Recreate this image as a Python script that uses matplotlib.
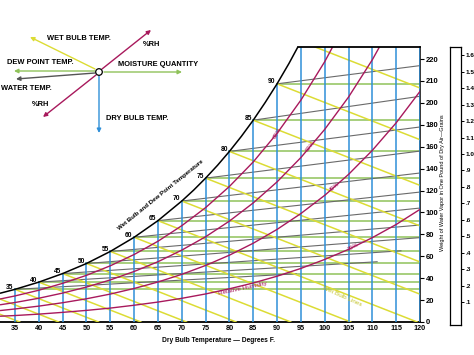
import numpy as np
import matplotlib
matplotlib.use("Agg")
import matplotlib.pyplot as plt
from matplotlib.patches import Circle

plt.rcParams['font.family'] = ['Liberation Sans', 'DejaVu Sans']

# ---------------- data ----------------
sat_t = [32, 35, 40, 45, 50, 55, 60, 65, 70, 72.5, 75, 77.5, 80, 82.5, 85, 87.5, 90,
         92.5, 95, 97.5, 100, 105, 110, 115, 120]
sat_w = [26.4, 29.8, 36.4, 44.2, 53.4, 64.4, 77.3, 92.5, 110.4, 120.4, 131.3, 143.0,
         155.7, 169.4, 184.2, 200.3, 217.4, 236.0, 256.1, 277.8, 301.1, 353.2, 414.1,
         484.8, 567.5]
rh_t = [32, 35, 40, 45, 50, 55, 60, 65, 70, 75, 80, 85, 90, 95, 100, 105, 110, 115, 120]
rh20 = [5.3, 5.9, 7.2, 8.8, 10.6, 12.7, 15.3, 18.2, 21.6, 25.6, 30.3, 35.6, 41.8,
        48.9, 57.1, 66.3, 77.0, 89.0, 102.8]
rh40 = [10.5, 11.9, 14.5, 17.6, 21.2, 25.5, 30.6, 36.5, 43.5, 51.6, 61.0, 71.9, 84.5,
        99.0, 115.6, 134.7, 156.7, 181.8, 210.5]
rh60 = [15.8, 17.8, 21.7, 26.4, 31.9, 38.4, 46.1, 55.0, 65.6, 77.8, 92.1, 108.7, 127.9,
        150.1, 175.8, 205.3, 239.4, 278.5, 323.6]
rh80 = [21.1, 23.8, 29.0, 35.3, 42.6, 51.3, 61.6, 73.7, 87.9, 104.4, 123.7, 146.1, 172.2,
        202.5, 237.6, 278.1, 325.1, 379.4, 442.4]
rh_labels = ['20%', '40%', '60%', '80%']
rh_label_t = [106, 102, 97, 90]

dry_bulb = [35, 40, 45, 50, 55, 60, 65, 70, 75, 80, 85, 90, 95, 100, 105, 110, 115, 120]

wb_t = [25, 30, 35, 40, 45, 50, 55, 60, 65, 70, 75, 80, 85, 90, 95]
wb_start_w = [18.7, 24.1, 29.8, 36.4, 44.2, 53.4, 64.4, 77.3, 92.5, 110.4, 131.3, 155.7,
              184.2, 217.4, 256.1]
wb_slope = 1.7  # grains per degree F

dew_t = [35, 40, 45, 50, 55, 60, 65, 70, 75, 80, 85, 90]
dew_w = [29.8, 36.4, 44.2, 53.4, 64.4, 77.3, 92.5, 110.4, 131.3, 155.7, 184.2, 217.4]

gray_end_t = [94, 111, 116, 120, 120, 120, 120, 120, 120, 120, 120, 120]
gray_end_w = [44, 55, 65, 77, 88.5, 104, 118.6, 136, 156, 178, 206, 234]

sat_label_t = [35, 40, 45, 50, 55, 60, 65, 70, 75, 80, 85, 90]

ytick_vals = [0, 20, 40, 60, 80, 100, 120, 140, 160, 180, 200, 220, 240]
ytick_labels = ['0', '20', '40', '60', '80', '100', '120', '140', '160', '180',
                '200', '210', '220']
bar_vals = [0.1, 0.2, 0.3, 0.4, 0.5, 0.6, 0.7, 0.8, 0.9, 1.0, 1.1, 1.2, 1.3, 1.4, 1.5, 1.6]
bar_labels = ['.1', '.2', '.3', '.4', '.5', '.6', '.7', '.8', '.9',
              '1.0', '1.1', '1.2', '1.3', '1.4', '1.5', '1.6']

W_TOP = 251
T_MIN, T_MAX = 31.85, 120

BLUE = '#2f8fd8'
MAG = '#a8195c'
YEL = '#dcdc34'
GRN = '#8fc25a'
GRY = '#6a6a6a'

W, H = 474, 355
fig = plt.figure(figsize=(W / 100, H / 100), dpi=100)
fig.patch.set_facecolor('white')

ax = fig.add_axes([0 / W, (H - 322) / H, 420 / W, (322 - 47) / H])
ax.set_xlim(T_MIN, T_MAX)
ax.set_ylim(0, W_TOP)
for s in ['left', 'top']:
    ax.spines[s].set_visible(False)
ax.spines['bottom'].set_linewidth(1.3)
ax.spines['right'].set_linewidth(1.1)

sat_t_a = np.array(sat_t, float)
sat_w_a = np.array(sat_w, float)

# green dew point lines
for t, w in zip(dew_t, dew_w):
    ax.plot([t, T_MAX], [w, w], color=GRN, lw=1.1, zorder=1)
# gray water temp lines
for t, w, te, we in zip(dew_t, dew_w, gray_end_t, gray_end_w):
    ax.plot([t, te], [w, we], color=GRY, lw=0.8, zorder=2)
# yellow wet bulb lines
for t, w in zip(wb_t, wb_start_w):
    t_end = t + w / wb_slope
    if t_end > T_MAX:
        t_end = T_MAX
    w_end = w - wb_slope * (t_end - t)
    ax.plot([t, t_end], [w, w_end], color=YEL, lw=1.1, zorder=3)
# blue dry bulb verticals
for t in dry_bulb:
    top = np.interp(t, sat_t_a, sat_w_a)
    ax.plot([t, t], [0, min(top, W_TOP)], color=BLUE, lw=1.1, zorder=4)
# RH curves
for arr in [rh20, rh40, rh60, rh80]:
    ax.plot(rh_t, arr, color=MAG, lw=1.0, zorder=5)
# saturation curve
ax.plot(sat_t, sat_w, color='black', lw=1.1, zorder=6)
t_top = np.interp(W_TOP, sat_w_a, sat_t_a)
ax.plot([t_top, T_MAX], [W_TOP, W_TOP], color='black', lw=1.3, zorder=6, clip_on=False)

# saturation labels
for t in sat_label_t:
    w = np.interp(t, sat_t_a, sat_w_a)
    ax.annotate(str(t), (t, w), xytext=(-1, 1.5), textcoords='offset points',
                ha='right', va='center', fontsize=4.8, fontweight='bold', zorder=7)

# RH labels
rh_rot = [28, 40, 50, 60]
for arr, lab, t, r in zip([rh20, rh40, rh60, rh80], rh_labels, rh_label_t, rh_rot):
    w = np.interp(t, np.array(rh_t, float), np.array(arr))
    ax.text(t, w, lab, color=MAG, fontsize=4.2, rotation=r, ha='center', va='center',
            zorder=8)

# x ticks
ax.set_xticks(dry_bulb)
ax.set_xticklabels([str(t) for t in dry_bulb])
ax.tick_params(axis='x', length=0, pad=2, labelsize=5.2)
for lb in ax.get_xticklabels():
    lb.set_fontweight('bold')
# y ticks on right
ax.yaxis.tick_right()
ax.set_yticks(ytick_vals)
ax.set_yticklabels(ytick_labels)
ax.tick_params(axis='y', length=3, width=0.8, pad=1, labelsize=5.5, direction='out')
for lb in ax.get_yticklabels():
    lb.set_fontweight('bold')

# right bar scale
ax2 = fig.add_axes([450 / W, (H - 325) / H, 11 / W, (325 - 47) / H])
ax2.set_xlim(0, 1)
ax2.set_ylim((318.5 - 325) / 164.5, (318.5 - 47) / 164.5)
ax2.set_xticks([])
ax2.yaxis.tick_right()
ax2.set_yticks(bar_vals)
ax2.set_yticklabels(bar_labels)
ax2.tick_params(axis='y', length=2.5, width=0.7, pad=0.5, labelsize=4.6, direction='out')
for lb in ax2.get_yticklabels():
    lb.set_fontweight('bold')
for s in ax2.spines.values():
    s.set_linewidth(0.9)

# overlay for free text and legend
ov = fig.add_axes([0, 0, 1, 1], zorder=10)
ov.set_xlim(0, W)
ov.set_ylim(H, 0)
ov.axis('off')
ov.patch.set_alpha(0)

ov.text(219, 340, 'Dry Bulb Temperature \u2014 Degrees F.', fontsize=4.8, fontweight='bold',
        ha='center', va='center')
ov.text(443, 183, 'Weight of Water Vapor in One Pound of Dry Air\u2014Grains', fontsize=4.0,
        rotation=90, ha='center', va='center')
ov.text(161, 195, 'Wet Bulb and Dew Point Temperature', fontsize=4.4, fontweight='bold',
        rotation=39, ha='center', va='center')
ov.text(243, 288, 'Relative Humidity', fontsize=4.6, color=MAG, rotation=12,
        ha='center', va='center')
ov.text(342, 296, 'Wet Bulb Lines', fontsize=4.6, color='#c4c42c', rotation=-24,
        ha='center', va='center')

# legend diagram
cx, cy = 99, 72
arrows = [
    ((30, 37), YEL, (95, 69)),
    ((151, 30), MAG, (102, 69)),
    ((14, 71), GRN, (95, 71)),
    ((16, 79), '#555555', (95, 73)),
    ((43, 117), MAG, (96, 75)),
    ((182, 72), GRN, (104, 72)),
    ((99, 133), BLUE, (99, 76)),
]
for end, col, start in arrows:
    ov.annotate('', xy=end, xytext=start,
                arrowprops=dict(arrowstyle='-|>', color=col, lw=1.0, mutation_scale=6,
                                shrinkA=0, shrinkB=0))
ov.add_patch(Circle((cx, cy), 3.3, facecolor='white', edgecolor='black', lw=0.9, zorder=5))
fs = 5.4
ov.text(47, 38, 'WET BULB TEMP.', fontsize=fs, fontweight='bold', ha='left', va='center')
ov.text(143, 44, '%RH', fontsize=fs, fontweight='bold', ha='left', va='center')
ov.text(7, 62, 'DEW POINT TEMP.', fontsize=fs, fontweight='bold', ha='left', va='center')
ov.text(1, 89, 'WATER TEMP.', fontsize=fs, fontweight='bold', ha='left', va='center')
ov.text(32, 104, '%RH', fontsize=fs, fontweight='bold', ha='left', va='center')
ov.text(118, 64, 'MOISTURE QUANTITY', fontsize=fs, fontweight='bold', ha='left', va='center')
ov.text(106, 118, 'DRY BULB TEMP.', fontsize=fs, fontweight='bold', ha='left', va='center')

fig.savefig('out.png', dpi=100)
